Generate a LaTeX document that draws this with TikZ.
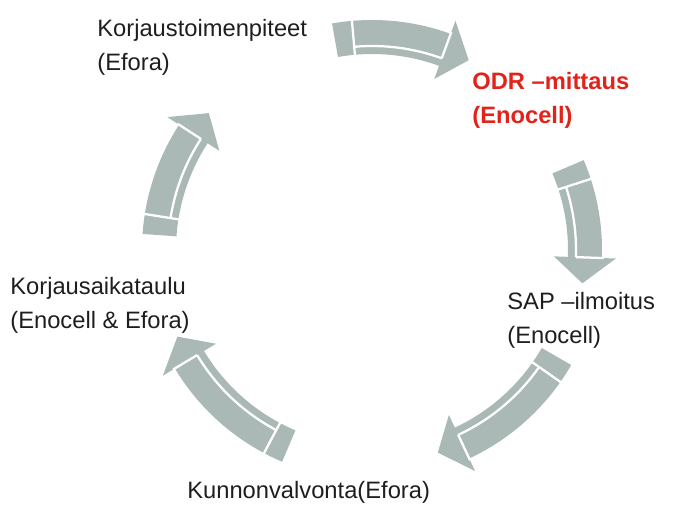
\documentclass[tikz,border=0pt]{standalone}
\usepackage{fontspec}
\setmainfont{Liberation Sans}
\definecolor{arrowgray}{HTML}{AAB9B6}
\definecolor{labelred}{HTML}{E2231A}
\definecolor{labeltext}{HTML}{1E1E1E}
\begin{document}
\begin{tikzpicture}[steplabel/.style={align=left, inner sep=0pt, anchor=north west, text=labeltext, font=\fontsize{13.5}{19.5}\selectfont}]
	\useasboundingbox (0,0) rectangle (13.62,10.10);

	% the five curved arrows of the cycle
	\begin{scope}[shift={(7.44,5.10)}]
		\foreach \a/\b in {100/63, 23/-9, -30/-72, -113/-156, 176/140}
		{
			\pgfmathsetmacro{\c}{\b+7}
			\pgfmathsetmacro{\t}{\a-5}
			\fill[arrowgray] (\a:4.60) arc[start angle=\a, end angle=\c, radius=4.60] -- (\c:4.88) -- (\b:4.26) -- (\c:3.64) -- (\c:3.92) arc[start angle=\c, end angle=\a, radius=3.92] -- cycle;
			\draw[white, line width=1.3pt] (\t:3.88) -- (\t:4.64);
			\draw[white, line width=1.3pt] (\t:4.08) arc[start angle=\t, end angle=\c, radius=4.08];
			\draw[white, line width=1.3pt] (\c:4.08) -- (\c:4.64);
		}
	\end{scope}

	\node[steplabel] (repair) at (1.94,9.72) {Korjaustoimenpiteet\\(Efora)};
	\node[steplabel, text=labelred, font=\fontsize{13.5}{19.5}\selectfont\bfseries] (odr) at (9.44,8.66) {ODR --mittaus\\(Enocell)};
	\node[steplabel] (sap) at (10.14,4.26) {SAP --ilmoitus\\(Enocell)};
	\node[steplabel] (monitor) at (3.74,0.48) {Kunnonvalvonta(Efora)};
	\node[steplabel] (schedule) at (0.20,4.56) {Korjausaikataulu\\(Enocell \& Efora)};
\end{tikzpicture}
\end{document}
